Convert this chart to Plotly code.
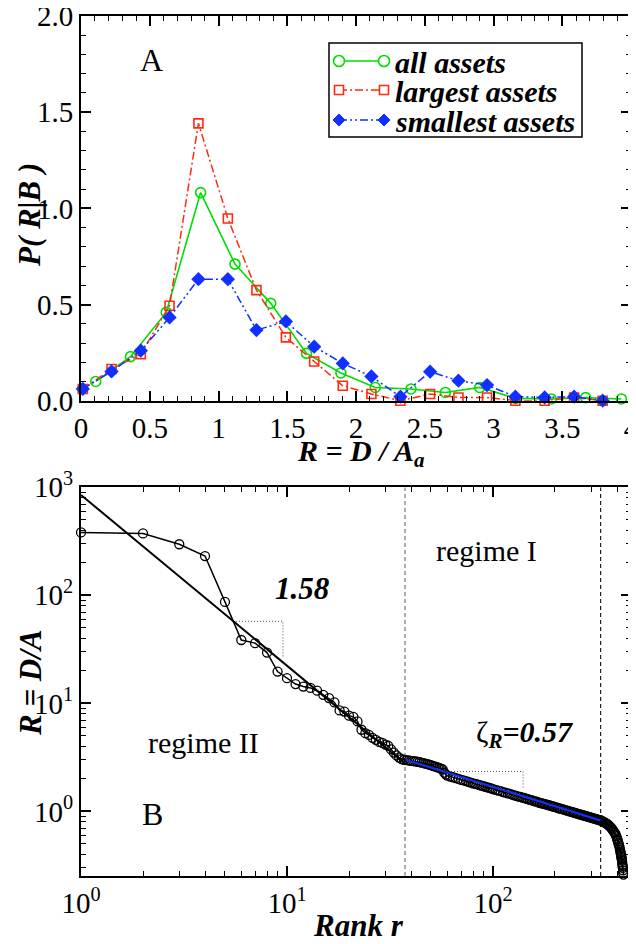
import plotly.graph_objects as go

FONT = "Liberation Serif"

# ---------------- Panel A : P(R|B) ----------------
x_all = [0.107, 0.36, 0.62, 0.87, 1.12, 1.38, 1.64, 1.89, 2.14, 2.40, 2.65, 2.90, 3.16, 3.42, 3.67, 3.93]
p_all = [0.100, 0.229, 0.459, 1.082, 0.710, 0.506, 0.246, 0.144, 0.069, 0.061, 0.043, 0.069, 0.012, 0.009, 0.016, 0.009]

x_largest = [0.013, 0.222, 0.435, 0.644, 0.854, 1.068, 1.276, 1.490, 1.696, 1.904, 2.112, 2.323, 2.539, 2.745, 2.953, 3.159, 3.372, 3.586, 3.794]
p_largest = [0.061, 0.165, 0.242, 0.494, 1.442, 0.947, 0.575, 0.329, 0.204, 0.078, 0.035, 0.0, 0.035, 0.017, 0.017, 0.0, 0.0, 0.017, 0.0]

x_smallest = [0.013, 0.222, 0.435, 0.644, 0.854, 1.068, 1.276, 1.490, 1.696, 1.904, 2.112, 2.323, 2.539, 2.745, 2.953, 3.159, 3.372, 3.586, 3.794]
p_smallest = [0.061, 0.152, 0.260, 0.433, 0.632, 0.632, 0.367, 0.412, 0.281, 0.194, 0.126, 0.021, 0.151, 0.104, 0.081, 0.021, 0.017, 0.021, 0.0]

legend_names = ["all assets", "largest assets", "smallest assets"]

# ---------------- Panel B : rank plot ----------------
rank_B = (list(range(1, 61)) + list(range(62, 101, 2)) + list(range(103, 200, 3))
          + list(range(203, 332, 4)) + [333]
          + [336, 340, 344, 348, 352, 356, 360, 364, 368, 372, 376, 380, 384, 388,
             391, 394, 397, 400, 402, 404, 406, 408, 410, 412, 414, 416,
             417, 418, 419, 420, 421, 422, 423, 424, 425, 426, 427, 428, 429, 430])
R_B = [382, 374, 297, 231, 86.9, 38.6, 36.1, 29.5, 19.7, 17.1,
       15.1, 14.3, 13.9, 13.1, 12.0, 11.2, 10.2, 8.6, 8.4, 7.7,
       7.5, 6.8, 5.7, 5.3, 5.1, 4.8, 4.6, 4.4, 4.3, 4.15,
       4.05, 3.75, 3.5, 3.3, 3.15, 3.05, 3.0, 2.98, 2.96, 2.94,
       2.92, 2.90, 2.88, 2.86, 2.83, 2.80, 2.77, 2.74, 2.71, 2.68,
       2.64, 2.61, 2.58, 2.55, 2.52, 2.49, 2.45, 2.28, 2.20, 2.14,
       # 62..100 step 2
       2.10, 2.07, 2.03, 2.00, 1.96, 1.94, 1.91, 1.88, 1.85, 1.82,
       1.80, 1.78, 1.75, 1.73, 1.71, 1.69, 1.67, 1.65, 1.63, 1.61,
       # 103..199 step 3
       1.58, 1.56, 1.54, 1.51, 1.49, 1.47, 1.45, 1.43, 1.41, 1.39,
       1.37, 1.36, 1.34, 1.33, 1.31, 1.30, 1.28, 1.27, 1.25, 1.24,
       1.23, 1.21, 1.20, 1.19, 1.18, 1.17, 1.16, 1.15, 1.14, 1.13,
       1.12, 1.11, 1.10,
       # 203..331 step 4
       1.087, 1.075, 1.064, 1.053, 1.042, 1.032, 1.022, 1.012, 1.002, 0.993,
       0.983, 0.974, 0.966, 0.958, 0.949, 0.941, 0.933, 0.926, 0.918, 0.911,
       0.904, 0.897, 0.890, 0.883, 0.876, 0.870, 0.863, 0.857, 0.851, 0.845,
       0.840, 0.834, 0.828,
       0.825,
       # tail
       0.82, 0.81, 0.80, 0.79, 0.78, 0.77, 0.76, 0.745, 0.73, 0.715,
       0.70, 0.68, 0.66, 0.64, 0.63, 0.61, 0.59, 0.56, 0.545, 0.53,
       0.51, 0.495, 0.48, 0.46, 0.44, 0.42, 0.41, 0.40, 0.39, 0.38,
       0.37, 0.36, 0.35, 0.335, 0.32, 0.31, 0.30, 0.285, 0.27, 0.26]

fit1_rank = [1, 37]          # slope 1.58
fit1_R = [849, 2.82]
fit2_rank = [37.8, 333]      # zeta_R = 0.57
fit2_R = [3.0, 0.824]
tri1_rank = [5.47, 9.56, 9.56]
tri1_R = [57.5, 57.5, 27.0]
tri2_rank = [58.5, 140, 140]
tri2_R = [2.34, 2.34, 1.6]
regime_bounds = [37.4, 333]
regime_colors = ["#777777", "#222222"]

XB_RANGE = [0, 2.670]
YB_RANGE = [-0.598, 3]

GREEN = "#00dd00"
RED = "#ff2a10"
BLUE = "#1030ff"
DASH_RED = "8px,3px,2px,3px"
DASH_BLUE = "8px,3px,2px,3px,2px,3px"

# page geometry (the page body adds an 8px offset to the figure)
W, H, OFF = 636, 944, 8
FRAME_L, FRAME_R, FRAME_T, FRAME_B = 81, 631, 16, 876   # plot-area edges on the page
ML = FRAME_L - OFF
MT = FRAME_T - OFF
MR = W - (FRAME_R - OFF)
MB = H - (FRAME_B - OFF)
PW, PH = FRAME_R - FRAME_L, FRAME_B - FRAME_T

def px(X):
    return (X - FRAME_L) / PW

def py(Y):
    return (FRAME_B - Y) / PH

fig = go.Figure()

# Panel A traces
fig.add_trace(go.Scatter(x=x_all, y=p_all, mode="lines+markers", name=legend_names[0],
                         line=dict(color=GREEN, width=1.6),
                         marker=dict(symbol="circle-open", size=10, color=GREEN, line=dict(width=1.6)),
                         cliponaxis=False, showlegend=False, xaxis="x", yaxis="y"))
fig.add_trace(go.Scatter(x=x_largest, y=p_largest, mode="lines+markers", name=legend_names[1],
                         line=dict(color=RED, width=1.5, dash=DASH_RED),
                         marker=dict(symbol="square-open", size=9, color=RED, line=dict(width=1.6)),
                         cliponaxis=False, showlegend=False, xaxis="x", yaxis="y"))
fig.add_trace(go.Scatter(x=x_smallest, y=p_smallest, mode="lines+markers", name=legend_names[2],
                         line=dict(color=BLUE, width=1.5, dash=DASH_BLUE),
                         marker=dict(symbol="diamond", size=11, color=BLUE),
                         cliponaxis=False, showlegend=False, xaxis="x", yaxis="y"))

# Panel B traces
for xb, col in zip(regime_bounds, regime_colors):
    fig.add_trace(go.Scatter(x=[xb, xb], y=[10 ** YB_RANGE[0], 10 ** YB_RANGE[1]], mode="lines",
                             line=dict(color=col, width=1.2, dash="4px,3px"), showlegend=False,
                             hoverinfo="skip", xaxis="x2", yaxis="y2"))
for tx, ty in ((tri1_rank, tri1_R), (tri2_rank, tri2_R)):
    fig.add_trace(go.Scatter(x=tx, y=ty, mode="lines", line=dict(color="#555555", width=1, dash="1px,2px"),
                             showlegend=False, hoverinfo="skip", xaxis="x2", yaxis="y2"))
fig.add_trace(go.Scatter(x=fit1_rank, y=fit1_R, mode="lines", line=dict(color="black", width=2),
                         showlegend=False, xaxis="x2", yaxis="y2"))
fig.add_trace(go.Scatter(x=rank_B, y=R_B, mode="lines+markers", line=dict(color="black", width=1.5),
                         marker=dict(symbol="circle-open", size=9, color="black", line=dict(width=1.3)),
                         showlegend=False, cliponaxis=False, xaxis="x2", yaxis="y2"))
fig.add_trace(go.Scatter(x=fit2_rank, y=fit2_R, mode="lines", line=dict(color=BLUE, width=2),
                         showlegend=False, xaxis="x2", yaxis="y2"))

common = dict(showgrid=False, zeroline=False, showline=True, linecolor="black", linewidth=2,
              mirror="allticks", ticks="inside", ticklen=10, tickwidth=1.5, tickcolor="black",
              automargin=False, ticklabeloverflow="allow",
              tickfont=dict(family=FONT, size=29, color="black"))

minor_lin = dict(ticks="inside", ticklen=5, tickwidth=1.2, tickcolor="black", dtick=0.1, showgrid=False)

xb_minor = [m * 10 ** e for e in range(0, 3) for m in range(2, 10) if m * 10 ** e < 468]
yb_minor = [m * 10 ** e for e in range(-1, 3) for m in range(2, 10) if m * 10 ** e > 0.25]

fig.update_layout(
    width=W, height=H,
    paper_bgcolor="white", plot_bgcolor="white",
    margin=dict(l=ML, r=MR, t=MT, b=MB, autoexpand=False),
    font=dict(family=FONT, color="black"),
    xaxis=dict(domain=[0, 1], anchor="y", range=[0, 4], tick0=0, dtick=0.5,
               minor=minor_lin, **common),
    yaxis=dict(domain=[py(400.7), 1], anchor="x", range=[0, 2], tick0=0, dtick=0.5, tickformat=".1f",
               minor=minor_lin, **common),
    xaxis2=dict(domain=[0, 1], anchor="y2", type="log", range=XB_RANGE,
                tickmode="array", tickvals=[1, 10, 100],
                ticktext=["10<sup>0</sup>", "10<sup>1</sup>", "10<sup>2</sup>"],
                minor=dict(tickmode="array", tickvals=xb_minor, ticks="inside", ticklen=5,
                           tickwidth=1.2, tickcolor="black", showgrid=False),
                **common),
    yaxis2=dict(domain=[0, py(487.3)], anchor="x2", type="log", range=YB_RANGE,
                tickmode="array", tickvals=[1, 10, 100, 1000],
                ticktext=["10<sup>0</sup>", "10<sup>1</sup>", "10<sup>2</sup>", "10<sup>3</sup>"],
                minor=dict(tickmode="array", tickvals=yb_minor, ticks="inside", ticklen=5,
                           tickwidth=1.2, tickcolor="black", showgrid=False),
                **common),
    showlegend=False,
)

# ---- custom legend box (panel A) ----
shapes = [dict(type="rect", xref="paper", yref="paper", x0=px(329), x1=px(582), y0=py(137), y1=py(43),
               line=dict(color="black", width=1.5), fillcolor="white", layer="above")]
rows = [61, 90, 120]
LX0, LX1 = 339, 384
styles = [(GREEN, "solid"), (RED, DASH_RED), (BLUE, DASH_BLUE)]
for Y, (col, dash) in zip(rows, styles):
    shapes.append(dict(type="line", xref="paper", yref="paper", x0=px(LX0), x1=px(LX1), y0=py(Y), y1=py(Y),
                       line=dict(color=col, width=1.6, dash=dash), layer="above"))
for X in (LX0, LX1):
    r = 5.5
    shapes.append(dict(type="circle", xref="paper", yref="paper", x0=px(X - r), x1=px(X + r),
                       y0=py(rows[0] + r), y1=py(rows[0] - r), line=dict(color=GREEN, width=1.6),
                       fillcolor="white", layer="above"))
    s = 4.5
    shapes.append(dict(type="rect", xref="paper", yref="paper", x0=px(X - s), x1=px(X + s),
                       y0=py(rows[1] + s), y1=py(rows[1] - s), line=dict(color=RED, width=1.6),
                       fillcolor="white", layer="above"))
    d = 6
    Y = rows[2]
    path = (f"M {px(X - d)},{py(Y)} L {px(X)},{py(Y - d)} L {px(X + d)},{py(Y)} "
            f"L {px(X)},{py(Y + d)} Z")
    shapes.append(dict(type="path", xref="paper", yref="paper", path=path,
                       line=dict(color=BLUE, width=1), fillcolor=BLUE, layer="above"))
fig.update_layout(shapes=shapes)

def ann(text, x, y, size, angle=0, xanchor="center"):
    fig.add_annotation(text=text, x=x, y=y, xref="paper", yref="paper", showarrow=False,
                       font=dict(family=FONT, size=size, color="black"), textangle=angle,
                       xanchor=xanchor, yanchor="middle")

for Y, name in zip(rows, legend_names):
    ann(f"<b><i>{name}</i></b>", px(393), py(Y + 1), 30, xanchor="left")

ann("A", px(151), py(60), 32)
ann("B", px(152), py(814), 32)
ann("regime II", px(203), py(742), 30)
ann("regime I", px(486), py(550), 30)
ann("<b><i>1.58</i></b>", px(302), py(588), 31)
ann("ζ<sub><b><i>R</i></b></sub><b><i>=0.57</i></b>", px(524), py(734), 30)
ann("<b><i>R = D / A<sub>a</sub></i></b>", px(361), py(453), 30)
ann("<b><i>Rank r</i></b>", px(358), py(925), 31)
ann("<b><i>P( R|B )</i></b>", px(30), py(215), 31, -90)
ann("<b><i>R = D/A</i></b>", px(30), py(683), 31, -90)

fig.write_html("out.html")
